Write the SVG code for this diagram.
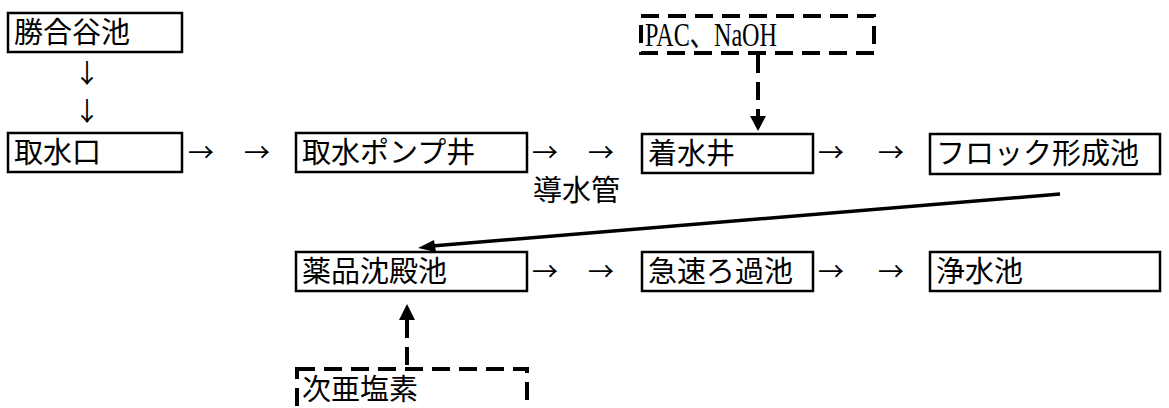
<svg xmlns="http://www.w3.org/2000/svg" width="1169" height="408" viewBox="0 0 1169 408">
<style>
.box{fill:#fff;stroke:#000;stroke-width:2.5}
.dbox{fill:none;stroke:#000;stroke-width:4;stroke-dasharray:18 9}
.t{font-family:"Noto Sans CJK JP","Noto Sans",sans-serif;font-size:29px;fill:#000}
.s{font-family:"Liberation Serif","Noto Sans CJK JP",serif;font-size:33px;fill:#000}
.ar{font-family:"Noto Sans CJK JP",sans-serif;font-size:26px;fill:#000}
.dl{stroke:#000;stroke-width:4;stroke-dasharray:18 9;fill:none}
</style>
<rect width="1169" height="408" fill="#fff"/>
<g id="n-katsuaiya"><rect class="box" x="8" y="13" width="174" height="39"/><text class="t" x="14" y="43">勝合谷池</text></g>
<g id="n-shusuiko"><rect class="box" x="8" y="133" width="174" height="39"/><text class="t" x="14" y="163">取水口</text></g>
<g id="n-pump"><rect class="box" x="296" y="133" width="231" height="39"/><text class="t" x="302" y="163">取水ポンプ井</text></g>
<g id="n-chakusui"><rect class="box" x="642" y="134" width="171" height="39"/><text class="t" x="648" y="164">着水井</text></g>
<g id="n-floc"><rect class="box" x="930" y="134" width="230" height="40"/><text class="t" x="936" y="164">フロック形成池</text></g>
<g id="n-chinden"><rect class="box" x="296" y="252" width="231" height="39"/><text class="t" x="302" y="282">薬品沈殿池</text></g>
<g id="n-kyusoku"><rect class="box" x="642" y="252" width="171" height="39"/><text class="t" x="648" y="282">急速ろ過池</text></g>
<g id="n-josui"><rect class="box" x="930" y="252" width="230" height="39"/><text class="t" x="936" y="282">浄水池</text></g>
<g id="n-pac"><rect class="dbox" x="641" y="16" width="233" height="37"/><text class="s" x="645" y="46" textLength="132" lengthAdjust="spacingAndGlyphs">PAC、NaOH</text></g>
<g id="n-jia"><rect class="dbox" x="297" y="369" width="230" height="45"/><text class="t" x="302" y="400">次亜塩素</text></g>
<g id="label-dosuikan"><text class="t" x="533" y="201">導水管</text></g>
<g id="connectors">
<text class="ar" x="74" y="83">↓</text>
<text class="ar" x="74" y="121">↓</text>
<text class="ar" x="188" y="162">→</text>
<text class="ar" x="244" y="162">→</text>
<text class="ar" x="532" y="162">→</text>
<text class="ar" x="588" y="162">→</text>
<text class="ar" x="818" y="162">→</text>
<text class="ar" x="878" y="162">→</text>
<text class="ar" x="532" y="281">→</text>
<text class="ar" x="588" y="281">→</text>
<text class="ar" x="818" y="281">→</text>
<text class="ar" x="878" y="281">→</text>
<line class="dl" x1="758" y1="55" x2="758" y2="118"/>
<path d="M750,116 L766,116 L758,131 z" fill="#000"/>
<line class="dl" x1="407" y1="365" x2="407" y2="318"/>
<path d="M399,320 L415,320 L407,304 z" fill="#000"/>
<line x1="1060" y1="194" x2="432" y2="246" stroke="#000" stroke-width="3.5"/>
<path d="M418,248 L434,240 L436,252 z" fill="#000"/>
</g>
</svg>
